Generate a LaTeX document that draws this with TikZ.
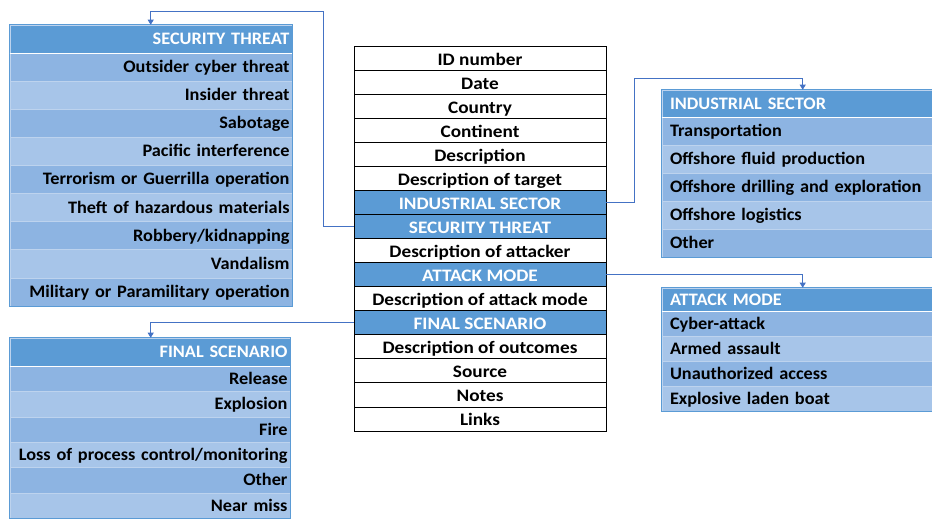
\documentclass[tikz,border=0pt]{standalone}
\usepackage{fontspec}
\setmainfont{Carlito}[FakeStretch=1.1]
\newfontfamily\sidefont{Carlito}[FakeStretch=1.045]
\newcommand\mysidefont{\sidefont\bfseries\fontsize{17.5}{19}\selectfont\hyphenpenalty=10000\relax\exhyphenpenalty=10000\relax}
\usetikzlibrary{arrows.meta}
\definecolor{hdr}{HTML}{5B9BD5}
\definecolor{bandA}{HTML}{8DB4E2}
\definecolor{bandB}{HTML}{A7C5E9}
\definecolor{sepc}{HTML}{BDD3EE}
\definecolor{lnk}{HTML}{4472C4}
\begin{document}
\begin{tikzpicture}[x=1pt,y=-1pt,
  base/.style={rectangle, inner ysep=0pt, font=\bfseries\fontsize{17.5}{19}\selectfont, anchor=center},
  crow/.style={base, draw=black, line width=0.8pt, minimum width=252pt, minimum height=24.06pt, fill=white, text height=14pt, text depth=0pt},
  chl/.style={crow, fill=hdr, text=white},
  sbase/.style={base, font=\mysidefont, draw=sepc, line width=0.6pt, text height=12pt, text depth=1pt},
  lrow/.style={sbase, inner xsep=2.5pt, align=right},
  rrow/.style={sbase, inner xsep=8pt, align=left},
  sthdr/.style={lrow, fill=hdr, text=white},
  rhdr/.style={rrow, fill=hdr, text=white},
  stw/.style={text width=277pt, minimum height=28.1pt},
  fsw/.style={text width=275pt, minimum height=25.4pt},
  isw/.style={text width=256pt, minimum height=28pt},
  amw/.style={text width=256pt, minimum height=25pt},
  link/.style={draw=lnk, line width=0.8pt, -{Triangle[width=6pt,length=5pt]}},
  border/.style={draw=hdr, line width=0.8pt}
]
\useasboundingbox (0,0) rectangle (932,520);

% central table
\node[crow] (c0) at (480,58.03) {ID number};
\node[crow] (c1) at (480,82.09) {Date};
\node[crow] (c2) at (480,106.16) {Country};
\node[crow] (c3) at (480,130.22) {Continent};
\node[crow] (c4) at (480,154.28) {Description};
\node[crow] (c5) at (480,178.34) {Description of target};
\node[chl]  (c6) at (480,202.41) {INDUSTRIAL SECTOR};
\node[chl]  (c7) at (480,226.47) {SECURITY THREAT};
\node[crow] (c8) at (480,250.53) {Description of attacker};
\node[chl]  (c9) at (480,274.59) {ATTACK MODE};
\node[crow] (c10) at (480,298.66) {Description of attack mode};
\node[chl]  (c11) at (480,322.72) {FINAL SCENARIO};
\node[crow] (c12) at (480,346.78) {Description of outcomes};
\node[crow] (c13) at (480,370.84) {Source};
\node[crow] (c14) at (480,394.91) {Notes};
\node[crow] (c15) at (480,418.97) {Links};

% security threat table
\node[sthdr,stw,minimum height=28pt] (st0) at (151,39) {SECURITY THREAT};
\node[lrow,stw,fill=bandA] (st1) at (151,67.05) {Outsider cyber threat};
\node[lrow,stw,fill=bandB] (st2) at (151,95.15) {Insider threat};
\node[lrow,stw,fill=bandA] (st3) at (151,123.25) {Sabotage};
\node[lrow,stw,fill=bandB] (st4) at (151,151.35) {Pacific interference};
\node[lrow,stw,fill=bandA] (st5) at (151,179.45) {Terrorism or Guerrilla operation};
\node[lrow,stw,fill=bandB] (st6) at (151,207.55) {Theft of hazardous materials};
\node[lrow,stw,fill=bandA] (st7) at (151,235.65) {Robbery/kidnapping};
\node[lrow,stw,fill=bandB] (st8) at (151,263.75) {Vandalism};
\node[lrow,stw,fill=bandA] (st9) at (151,291.85) {Military or Paramilitary operation};
\draw[border] (st0.north west) rectangle (st9.south east);
\draw[white, line width=1.3pt] (st0.south west) -- (st0.south east);

% final scenario table
\node[sthdr,fsw,minimum height=28pt] (fs0) at (150,352) {FINAL SCENARIO};
\node[lrow,fsw,fill=bandA] (fs1) at (150,378.7) {Release};
\node[lrow,fsw,fill=bandB] (fs2) at (150,404.1) {Explosion};
\node[lrow,fsw,fill=bandA] (fs3) at (150,429.5) {Fire};
\node[lrow,fsw,fill=bandB] (fs4) at (150,454.9) {Loss of process control/monitoring};
\node[lrow,fsw,fill=bandA] (fs5) at (150,480.3) {Other};
\node[lrow,fsw,fill=bandB] (fs6) at (150,505.7) {Near miss};
\draw[border] (fs0.north west) rectangle (fs6.south east);
\draw[white, line width=1.3pt] (fs0.south west) -- (fs0.south east);

% industrial sector table
\node[rhdr,isw,minimum height=27pt] (is0) at (798,103.5) {INDUSTRIAL SECTOR};
\node[rrow,isw,fill=bandA] (is1) at (798,131) {Transportation};
\node[rrow,isw,fill=bandB] (is2) at (798,159) {Offshore fluid production};
\node[rrow,isw,fill=bandA] (is3) at (798,187) {Offshore drilling and exploration};
\node[rrow,isw,fill=bandB] (is4) at (798,215) {Offshore logistics};
\node[rrow,isw,fill=bandA] (is5) at (798,243) {Other};
\draw[border] (is0.north west) rectangle (is5.south east);
\draw[white, line width=1.3pt] (is0.south west) -- (is0.south east);

% attack mode table
\node[rhdr,amw,minimum height=23pt] (am0) at (798,299.5) {ATTACK MODE};
\node[rrow,amw,fill=bandA] (am1) at (798,323.5) {Cyber-attack};
\node[rrow,amw,fill=bandB] (am2) at (798,348.5) {Armed assault};
\node[rrow,amw,fill=bandA] (am3) at (798,373.5) {Unauthorized access};
\node[rrow,amw,fill=bandB] (am4) at (798,398.5) {Explosive laden boat};
\draw[border] (am0.north west) rectangle (am4.south east);
\draw[white, line width=1.3pt] (am0.south west) -- (am0.south east);

% connectors
\coordinate (k1) at (634,78);
\coordinate (k2) at (323,11);
\draw[link] (c6.east) -| (k1) -| ([xshift=141pt]is0.north west);
\draw[link] (c7.west) -| (k2) -| ([xshift=141pt]st0.north west);
\draw[link] (c9.east) -| ([xshift=141pt]am0.north west);
\draw[link] (c11.west) -| ([xshift=141pt]fs0.north west);
\end{tikzpicture}
\end{document}
